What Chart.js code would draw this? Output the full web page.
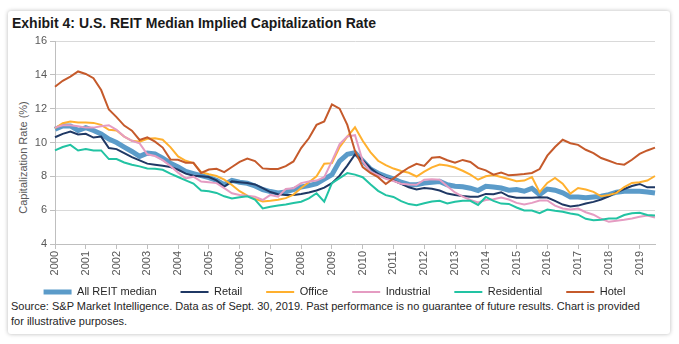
<!DOCTYPE html>
<html>
<head>
<meta charset="utf-8">
<script src="https://cdn.jsdelivr.net/npm/chart.js@4"></script>
<style>
  body { margin: 0; background: #fff; font-family: "Liberation Sans", Arial, sans-serif; }
  #card { position: absolute; left: 8px; top: 11px; width: 662px; height: 323px; background: #fff;
          border-radius: 3px; box-shadow: 0 0 4px rgba(0,0,0,0.28); }
  #title { position: absolute; left: 12px; top: 15px; font-weight: bold; font-size: 14px; line-height: 16px; color: #1a1a1a; }
  #ytitle { position: absolute; left: -77.5px; top: 149.5px; width: 200px; height: 15px; line-height: 15px;
            text-align: center; font-size: 11px; color: #595959; transform: rotate(-90deg); }
  #source { position: absolute; left: 11px; top: 299px; font-size: 11px; line-height: 15px; color: #262626; }
  #myChart { position: absolute; left: 0; top: 0; }
</style>
</head>
<body>
<div id="card"></div>
<div id="title">Exhibit 4: U.S. REIT Median Implied Capitalization Rate</div>
<div id="ytitle">Capitalization Rate (%)</div>
<div id="source">Source: S&amp;P Market Intelligence. Data as of Sept. 30, 2019. Past performance is no guarantee of future results. Chart is provided<br>for illustrative purposes.</div>
<canvas id="myChart" width="679" height="344"></canvas>
<script>
// quarterly data, 2000 Q1 to 2019 Q3
const years = [2000, 2001, 2002, 2003, 2004, 2005, 2006, 2007, 2008, 2009,
  2010, 2011, 2012, 2013, 2014, 2015, 2016, 2017, 2018, 2019];
const quarters = ["Q1", "Q2", "Q3", "Q4"];

const allReit = [10.78, 10.98, 10.98, 10.71, 10.88, 10.71, 10.51, 10.2, 10.0, 9.73,
  9.47, 9.18, 9.37, 9.33, 9.08, 8.78, 8.55, 8.29, 8.16, 8.04,
  7.92, 7.76, 7.5, 7.76, 7.65, 7.59, 7.43, 7.22, 7.1, 7.02,
  7.08, 7.22, 7.37, 7.45, 7.57, 7.84, 8.1, 8.9, 9.3, 9.4,
  8.92, 8.43, 8.18, 8.0, 7.85, 7.65, 7.52, 7.5, 7.6, 7.65,
  7.7, 7.5, 7.42, 7.38, 7.3, 7.16, 7.41, 7.37, 7.31, 7.18,
  7.22, 7.12, 7.29, 6.92, 7.25, 7.18, 7.02, 6.78, 6.78, 6.73,
  6.78, 6.82, 6.92, 7.06, 7.12, 7.12, 7.12, 7.08, 7.02];
const retail = [10.31, 10.51, 10.65, 10.47, 10.51, 10.29, 10.35, 9.67, 9.61, 9.37,
  9.14, 8.94, 8.75, 8.69, 8.63, 8.55, 8.39, 8.16, 8.04, 8.0,
  7.96, 7.76, 7.4, 7.7, 7.65, 7.61, 7.52, 7.3, 7.07, 6.94,
  6.89, 6.89, 6.95, 7.04, 7.16, 7.33, 7.6, 8.04, 8.63, 9.3,
  8.95, 8.49, 8.14, 7.9, 7.76, 7.55, 7.35, 7.22, 7.31, 7.27,
  7.16, 6.98, 6.9, 6.84, 6.8, 6.8, 6.96, 6.94, 7.06, 6.82,
  6.73, 6.73, 6.73, 6.76, 6.75, 6.55, 6.33, 6.22, 6.27, 6.39,
  6.49, 6.63, 6.82, 7.06, 7.25, 7.43, 7.55, 7.35, 7.35];
const office = [10.84, 11.14, 11.24, 11.18, 11.18, 11.16, 11.04, 10.75, 10.71, 10.35,
  10.1, 10.04, 10.22, 10.25, 10.16, 9.73, 9.18, 8.92, 8.78, 8.25,
  8.12, 8.02, 7.8, 7.49, 7.12, 6.86, 6.67, 6.51, 6.55, 6.61,
  6.71, 6.92, 7.31, 7.65, 8.0, 8.75, 8.78, 9.73, 10.35, 10.9,
  10.1, 9.43, 8.92, 8.66, 8.46, 8.32, 8.21, 7.99, 8.28, 8.53,
  8.7, 8.64, 8.52, 8.33, 8.1, 7.8, 8.0, 8.08, 7.96, 7.84,
  7.71, 7.75, 7.96, 7.06, 7.61, 7.9, 7.57, 6.98, 7.31, 7.22,
  7.08, 6.82, 6.9, 7.02, 7.37, 7.61, 7.65, 7.75, 8.02];
const industrial = [10.88, 11.02, 11.02, 10.96, 10.88, 10.88, 10.96, 11.02, 10.75, 10.35,
  10.1, 9.95, 9.3, 9.2, 8.96, 8.61, 8.22, 7.88, 7.98, 7.69,
  7.65, 7.6, 7.3, 7.0, 6.9, 6.85, 6.8, 6.6, 6.9, 6.8,
  7.25, 7.3, 7.6, 7.7, 7.75, 7.95, 8.9, 9.9, 10.36, 10.43,
  8.9, 8.28, 8.07, 7.86, 7.72, 7.56, 7.52, 7.5, 7.8, 7.83,
  7.8, 7.42, 7.05, 6.8, 6.6, 6.45, 6.6, 6.65, 6.75, 6.63,
  6.43, 6.33, 6.43, 6.57, 6.57, 6.27, 6.1, 6.04, 6.1, 5.88,
  5.73, 5.49, 5.31, 5.37, 5.43, 5.51, 5.61, 5.69, 5.57];
const residential = [9.53, 9.73, 9.86, 9.53, 9.61, 9.53, 9.53, 9.02, 9.02, 8.82,
  8.69, 8.59, 8.47, 8.45, 8.39, 8.16, 7.96, 7.76, 7.57, 7.16,
  7.12, 7.02, 6.82, 6.69, 6.76, 6.82, 6.62, 6.1, 6.2, 6.28,
  6.34, 6.42, 6.5, 6.7, 7.0, 6.5, 7.6, 7.89, 8.19, 8.1,
  7.95, 7.53, 7.14, 6.89, 6.78, 6.53, 6.36, 6.29, 6.41, 6.51,
  6.56, 6.4, 6.5, 6.56, 6.55, 6.31, 6.78, 6.55, 6.39, 6.37,
  6.16, 5.98, 5.98, 5.82, 6.04, 5.96, 5.9, 5.8, 5.73, 5.49,
  5.41, 5.43, 5.51, 5.51, 5.71, 5.82, 5.84, 5.71, 5.69];
const hotel = [13.3, 13.65, 13.9, 14.2, 14.05, 13.8, 13.1, 11.95, 11.5, 11.0,
  10.7, 10.15, 10.3, 10.05, 9.7, 9.0, 8.98, 8.8, 8.8, 8.2,
  8.4, 8.45, 8.25, 8.55, 8.85, 9.05, 8.9, 8.47, 8.43, 8.43,
  8.6, 8.88, 9.67, 10.25, 11.04, 11.24, 12.25, 12.0, 11.04, 9.5,
  8.55, 8.2, 7.95, 7.55, 7.88, 8.22, 8.52, 8.74, 8.62, 9.1,
  9.14, 8.95, 8.8, 8.97, 8.85, 8.5, 8.35, 8.1, 8.22, 8.06,
  8.1, 8.14, 8.2, 8.43, 9.22, 9.73, 10.16, 9.96, 9.86, 9.57,
  9.37, 9.08, 8.92, 8.75, 8.69, 8.98, 9.33, 9.53, 9.7];

const labels = [];
years.forEach((y) => quarters.forEach((q) => labels.push(y + " " + q)));
labels.length = allReit.length; // stops at 2019 Q3

Chart.defaults.font.family = "'Liberation Sans', Arial, sans-serif";
Chart.defaults.font.size = 11;

function line(label, data, color, width, order) {
  return {
    label: label,
    data: data,
    borderColor: color,
    backgroundColor: color,
    borderWidth: width,
    pointRadius: 0,
    tension: 0,
    order: order, // all REIT median drawn underneath
  };
}

// legend keeps wide item spacing but sits closer to the axis labels
const legendLift = {
  id: "legendLift",
  afterLayout(chart) {
    chart.legend.top -= 13.5;
    chart.legend.bottom -= 13.5;
  },
};

const ctx = document.getElementById("myChart").getContext("2d");
new Chart(ctx, {
  type: "line",
  data: {
    labels: labels,
    datasets: [
      line("All REIT median", allReit, "#5B9BC9", 5, 6),
      line("Retail", retail, "#1F3864", 2, 5),
      line("Office", office, "#FFB02E", 2, 4),
      line("Industrial", industrial, "#E59CC2", 2, 3),
      line("Residential", residential, "#22C3A3", 2, 2),
      line("Hotel", hotel, "#C55A2B", 2, 1),
    ],
  },
  plugins: [legendLift],
  options: {
    responsive: false,
    animation: false,
    devicePixelRatio: 1,
    layout: { padding: { top: 41, left: 14, right: 24, bottom: 23 } },
    plugins: {
      legend: {
        position: "bottom",
        labels: {
          usePointStyle: true,
          pointStyle: "line",
          pointStyleWidth: 28,
          padding: 24,
          color: "#262626",
          font: { size: 11 },
          sort: (a, b) => a.datasetIndex - b.datasetIndex,
        },
      },
      tooltip: { enabled: false },
    },
    scales: {
      x: {
        afterFit: (scale) => { scale.height = 32; },
        grid: {
          drawOnChartArea: false,
          tickLength: 5,
          tickColor: (c) => (c.index % 4 === 0 ? "#bfbfbf" : "rgba(0,0,0,0)"),
        },
        border: { color: "#bfbfbf" },
        ticks: {
          autoSkip: false,
          maxRotation: 90,
          minRotation: 90,
          padding: 2,
          color: "#595959",
          font: { size: 11 },
          callback: function (value, index) {
            return index % 4 === 0 ? String(years[index / 4]) : "";
          },
        },
      },
      y: {
        min: 4,
        max: 16,
        afterFit: (scale) => { scale.width = 41; },
        grid: { color: "#d9d9d9", tickLength: 5, tickColor: "#bfbfbf" },
        border: { color: "#bfbfbf" },
        ticks: { stepSize: 2, padding: 3, color: "#595959", font: { size: 11 } },
      },
    },
  },
});
</script>
</body>
</html>
